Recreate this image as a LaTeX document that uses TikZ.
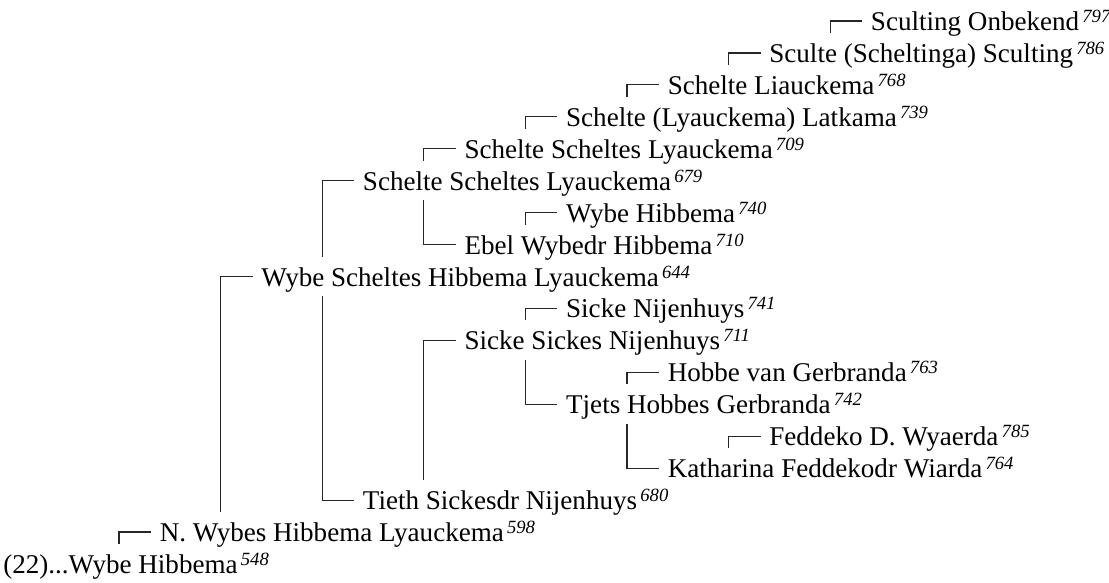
\documentclass[tikz,border=0pt]{standalone}
\usepackage{fontspec}
\setmainfont{Liberation Serif}
\newcommand\gen[1]{\kern2.4pt\raisebox{6pt}{\fontsize{14}{14}\selectfont\itshape #1}}
\tikzset{
  person/.style={anchor=base west, inner sep=0pt, font=\fontsize{20.3}{24}\selectfont},
  link/.style={draw=black!85, line width=0.85pt},
}
\begin{document}
\begin{tikzpicture}[x=0.75pt,y=-0.75pt]
\useasboundingbox (0,0) rectangle (1109,582);
% connector anchor points (generation x, row y)
\coordinate (c548) at (-38.5,563.98);
\coordinate (c598) at (119,532.04);
\coordinate (c644) at (220.6,276.52);
\coordinate (c679) at (322.2,180.7);
\coordinate (c680) at (322.2,500.1);
\coordinate (c709) at (423.8,148.76);
\coordinate (c710) at (423.8,244.58);
\coordinate (c711) at (423.8,340.4);
\coordinate (c739) at (525.4,116.82);
\coordinate (c740) at (525.4,212.64);
\coordinate (c741) at (525.4,308.46);
\coordinate (c742) at (525.4,404.28);
\coordinate (c768) at (627,84.88);
\coordinate (c763) at (627,372.34);
\coordinate (c764) at (627,468.16);
\coordinate (c786) at (728.6,52.94);
\coordinate (c785) at (728.6,436.22);
\coordinate (c797) at (830.2,21);
% people
\node[person] (p548) at ([shift={(41.5,9.5)}]c548) {(22)...Wybe Hibbema\gen{548}};
\node[person] (p598) at ([shift={(40.5,9.5)}]c598) {N. Wybes Hibbema Lyauckema\gen{598}};
\node[person] (p644) at ([shift={(40.5,9.5)}]c644) {Wybe Scheltes Hibbema Lyauckema\gen{644}};
\node[person] (p679) at ([shift={(40.5,9.5)}]c679) {Schelte Scheltes Lyauckema\gen{679}};
\node[person] (p680) at ([shift={(40.5,9.5)}]c680) {Tieth Sickesdr Nijenhuys\gen{680}};
\node[person] (p709) at ([shift={(40.5,9.5)}]c709) {Schelte Scheltes Lyauckema\gen{709}};
\node[person] (p710) at ([shift={(40.5,9.5)}]c710) {Ebel Wybedr Hibbema\gen{710}};
\node[person] (p711) at ([shift={(40.5,9.5)}]c711) {Sicke Sickes Nijenhuys\gen{711}};
\node[person] (p739) at ([shift={(40.5,9.5)}]c739) {Schelte (Lyauckema) Latkama\gen{739}};
\node[person] (p740) at ([shift={(40.5,9.5)}]c740) {Wybe Hibbema\gen{740}};
\node[person] (p741) at ([shift={(40.5,9.5)}]c741) {Sicke Nijenhuys\gen{741}};
\node[person] (p742) at ([shift={(40.5,9.5)}]c742) {Tjets Hobbes Gerbranda\gen{742}};
\node[person] (p768) at ([shift={(40.5,9.5)}]c768) {Schelte Liauckema\gen{768}};
\node[person] (p763) at ([shift={(40.5,9.5)}]c763) {Hobbe van Gerbranda\gen{763}};
\node[person] (p764) at ([shift={(40.5,9.5)}]c764) {Katharina Feddekodr Wiarda\gen{764}};
\node[person] (p786) at ([shift={(40.5,9.5)}]c786) {Sculte (Scheltinga) Sculting\gen{786}};
\node[person] (p785) at ([shift={(40.5,9.5)}]c785) {Feddeko D. Wyaerda\gen{785}};
\node[person] (p797) at ([shift={(40.5,9.5)}]c797) {Sculting Onbekend\gen{797}};
% fathers (line rises from above the child's row)
\foreach \f/\c in {598/548, 644/598, 679/644, 709/679, 739/709, 768/739, 786/768, 797/786,
                   740/710, 711/680, 741/711, 763/742, 785/764}
  \draw[link] ([yshift=15pt]c\f |- c\c) |- ([xshift=24pt]c\f);
% mothers (line drops from below the child's row)
\foreach \m/\c in {680/644, 710/679, 742/711, 764/742}
  \draw[link] ([yshift=-14.6pt]c\m |- c\c) |- ([xshift=24pt]c\m);
\end{tikzpicture}
\end{document}
